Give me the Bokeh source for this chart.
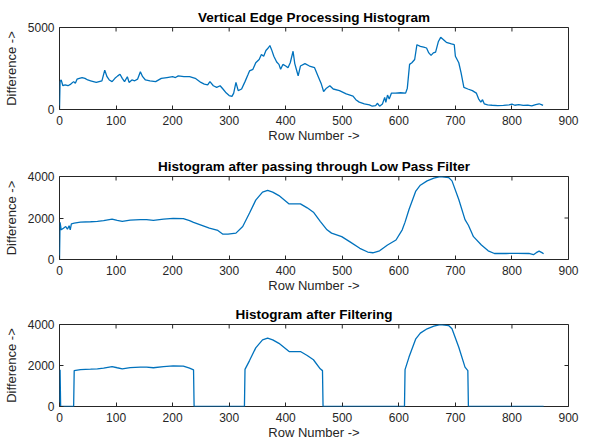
import math
from bokeh.plotting import figure
from bokeh.layouts import column
from bokeh.models import FixedTicker, Range1d
from bokeh.embed import file_html
from bokeh.resources import INLINE

# ---------------- data ----------------
titles = ["Vertical Edge Processing Histogram",
          "Histogram after passing through Low Pass Filter",
          "Histogram after Filtering"]
x_label = "Row Number ->"
y_label = "Difference ->"
x_ticks = [0, 100, 200, 300, 400, 500, 600, 700, 800, 900]
y_ticks_raw = [0, 5000]
y_ticks_filt = [0, 2000, 4000]

raw_rows = [0, 1, 3, 6, 10, 15, 20, 25, 28, 31, 35, 40, 45, 50, 55, 60, 65, 70, 75,
            80, 84, 88, 93, 98, 103, 107, 111, 115, 120, 123, 128, 133, 138, 143,
            147, 152, 160, 170, 180, 190, 200, 205, 210, 220, 230, 240, 250, 256,
            262, 266, 272, 278, 284, 289, 295, 300, 305, 308, 312, 316, 322, 328,
            333, 336, 342, 347, 353, 357, 361, 365, 369, 372, 375, 379, 384, 388,
            391, 395, 400, 404, 408, 413, 416, 420, 422, 426, 434, 442, 451, 457,
            463, 467, 472, 478, 484, 495, 507, 519, 524, 530, 539, 548, 553, 559,
            562, 566, 571, 575, 577, 580, 583, 587, 594, 603, 612, 615, 619, 623,
            628, 632, 638, 644, 649, 653, 657, 661, 665, 670, 674, 678, 684, 693,
            698, 700, 703, 706, 710, 715, 722, 730, 737, 741, 745, 748, 751, 757,
            765, 775, 785, 795, 800, 805, 812, 820, 828, 835, 842, 848, 852, 855]
raw_vals = [0, 1700, 1800, 1450, 1500, 1450, 1550, 1700, 1600, 1850, 1900, 1950,
            1900, 1800, 1750, 1700, 1650, 1700, 1750, 2400, 2000, 1800, 1700, 1900,
            2050, 2150, 1900, 1700, 2000, 1650, 1800, 1750, 1850, 2300, 2000, 1800,
            1750, 1700, 1900, 1950, 2000, 1950, 2050, 2000, 2000, 1900, 1650, 1550,
            1500, 1700, 1450, 1350, 1450, 1250, 1000, 850, 800, 1000, 1650, 1150,
            1250, 1700, 2100, 2350, 2450, 2850, 3050, 3350, 3250, 3600, 3750, 3900,
            3650, 3250, 2900, 2750, 2450, 2750, 2650, 2550, 2850, 3550, 2800, 2300,
            2050, 2650, 2800, 2650, 2550, 2050, 1550, 1100, 1300, 1450, 1250, 1150,
            950, 820, 600, 450, 340, 280, 200, 240, 380, 200, 340, 740, 440, 880,
            640, 1000, 1000, 1020, 1000, 1300, 2750, 2850, 3050, 3950, 3850, 3800,
            3750, 3450, 3300, 3450, 3500, 4150, 4400, 4280, 4100, 4000, 3950, 3250,
            3050, 2850, 2250, 1350, 1250, 1150, 1000, 650, 450, 600, 350, 280, 260,
            240, 250, 280, 330, 260, 300, 250, 270, 220, 300, 350, 300, 250]

lpf_rows = [0, 1, 3, 7, 11, 14, 17, 19, 21, 26, 37, 55, 67, 78, 93, 102, 111, 125,
            143, 154, 166, 184, 201, 219, 230, 237, 248, 265, 280, 289, 298, 312,
            324, 336, 347, 359, 368, 377, 388, 406, 426, 438, 449, 461, 473, 481,
            499, 513, 531, 545, 554, 566, 580, 595, 606, 611, 618, 630, 638, 650,
            662, 673, 688, 694, 706, 717, 723, 732, 746, 758, 769, 790, 810, 830,
            838, 843, 848, 853, 856]
lpf_vals = [0, 1790, 1430, 1510, 1590, 1460, 1630, 1430, 1720, 1750, 1800, 1820,
            1840, 1870, 1950, 1890, 1840, 1900, 1920, 1920, 1890, 1950, 1980, 1970,
            1870, 1790, 1680, 1510, 1400, 1220, 1220, 1270, 1590, 2240, 2860, 3250,
            3330, 3250, 3080, 2680, 2680, 2490, 2280, 1840, 1430, 1270, 1100, 860,
            540, 360, 325, 420, 700, 940, 1430, 1800, 2410, 3300, 3580, 3790, 3920,
            4000, 3950, 3790, 2890, 1920, 1650, 1100, 700, 420, 290, 290, 300, 290,
            230, 330, 400, 330, 280]

flt_rows = [0, 1, 2, 25, 26, 37, 55, 67, 78, 93, 102, 111, 125, 143, 154, 166, 184,
            201, 219, 230, 237, 238, 327, 328, 336, 347, 359, 368, 377, 388, 406,
            426, 438, 449, 461, 465, 466, 610, 611, 618, 630, 638, 650, 662, 673,
            688, 694, 706, 717, 722, 723, 856]
flt_vals = [0, 1790, 0, 0, 1750, 1800, 1820, 1840, 1870, 1950, 1890, 1840, 1900,
            1920, 1920, 1890, 1950, 1980, 1970, 1870, 1790, 0, 0, 1810, 2240, 2860,
            3250, 3330, 3250, 3080, 2680, 2680, 2490, 2280, 1840, 1750, 0, 0, 1800,
            2410, 3300, 3580, 3790, 3920, 4000, 3950, 3790, 2890, 1920, 1750, 0, 0]

# ---------------- styling ----------------
FONT = "Liberation Sans"
TXT = "#262626"
LINE = "#0072BD"
X_MIN, X_MAX = 0, 900


def make(title, xs, ys, ymax, yticks, height, top, bottom):
    p = figure(width=580, height=height, output_backend="svg", toolbar_location=None,
               x_range=Range1d(X_MIN, X_MAX), y_range=Range1d(0, ymax),
               min_border_left=53, min_border_right=12,
               min_border_top=top, min_border_bottom=bottom)
    p.title.text = title
    p.title.align = "center"
    p.title.text_font = FONT
    p.title.text_font_size = "13.5px"
    p.title.text_font_style = "bold"
    p.title.text_color = "#000000"
    p.title.standoff = 6
    p.grid.visible = False
    p.outline_line_color = TXT
    p.outline_line_width = 1
    p.outline_line_alpha = 1
    p.background_fill_color = "white"
    p.border_fill_color = "white"

    p.xaxis.ticker = FixedTicker(ticks=x_ticks)
    p.yaxis.ticker = FixedTicker(ticks=yticks)
    for ax in (p.xaxis[0], p.yaxis[0]):
        ax.axis_line_color = None
        ax.major_tick_in = 4
        ax.major_tick_out = 0
        ax.minor_tick_line_color = None
        ax.major_tick_line_color = TXT
        ax.major_label_text_font = FONT
        ax.major_label_text_font_size = "12px"
        ax.major_label_text_color = TXT
        ax.axis_label_text_font = FONT
        ax.axis_label_text_font_size = "13px"
        ax.axis_label_text_font_style = "normal"
        ax.axis_label_text_color = TXT
    p.xaxis.axis_label = x_label
    p.yaxis.axis_label = y_label
    p.xaxis.major_label_standoff = 6
    p.xaxis.axis_label_standoff = 0
    p.yaxis.major_label_standoff = 5
    p.yaxis.axis_label_standoff = 6

    # mirrored tick marks on the top and right edges (MATLAB box style)
    p.ray(x=x_ticks, y=[ymax] * len(x_ticks), length=4, length_units="screen",
          angle=-math.pi / 2, line_color=TXT, line_width=1)
    p.ray(x=[X_MAX] * len(yticks), y=yticks, length=4, length_units="screen",
          angle=math.pi, line_color=TXT, line_width=1)

    p.line(xs, ys, line_color=LINE, line_width=1.3)
    return p


p1 = make(titles[0], raw_rows, raw_vals, 5000, y_ticks_raw, 147, 27, 38)
p2 = make(titles[1], lpf_rows, lpf_vals, 4000, y_ticks_filt, 149, 29, 37)
p3 = make(titles[2], flt_rows, flt_vals, 4000, y_ticks_filt, 146, 28, 35)

layout = column(p1, p2, p3, spacing=0)
open("out.html", "w").write(file_html(layout, INLINE))
